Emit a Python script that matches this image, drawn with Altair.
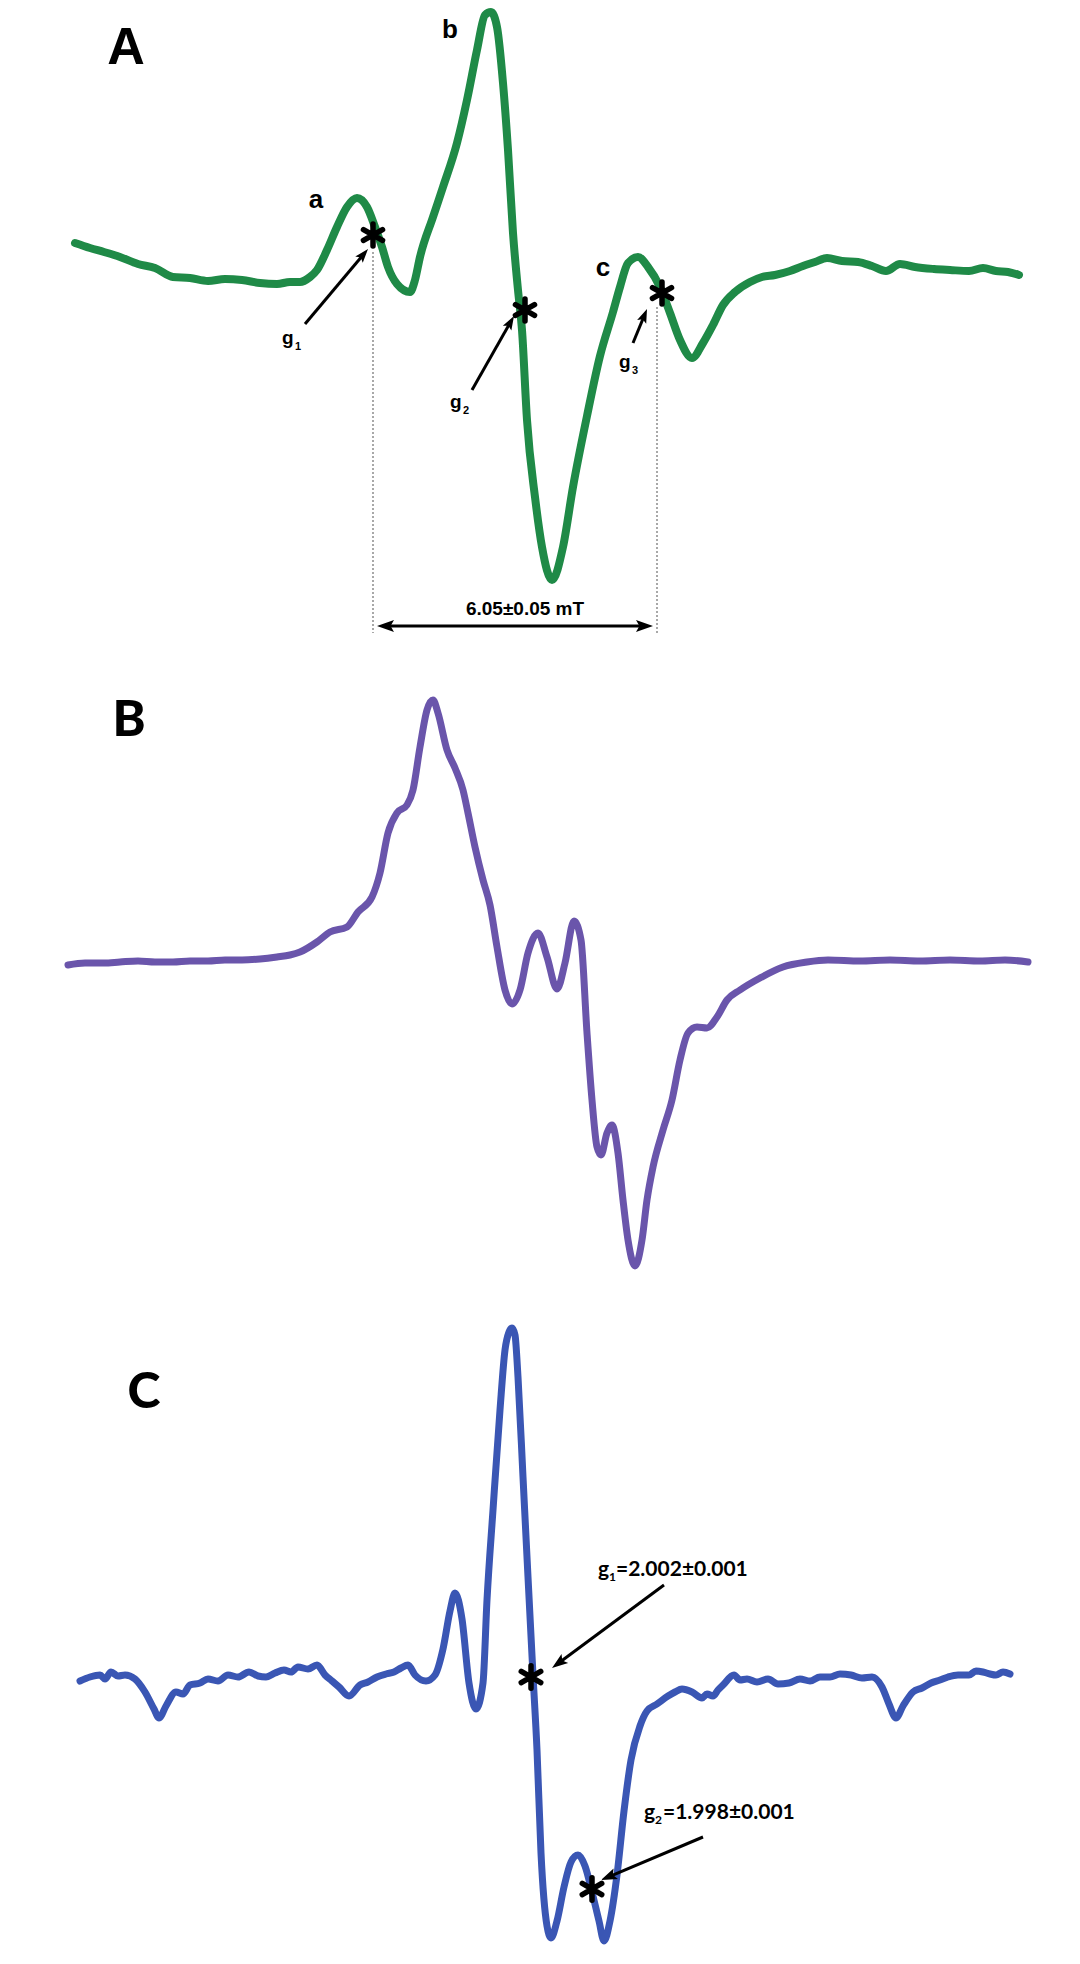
import math
import altair as alt
import pandas as pd

W = 1080
H_A, H_B, H_C = 650, 650, 664
DOM_A = [-370, 280]
DOM_B = [-338, 312]
DOM_C = [-287, 377]

GREEN = "#1f8a47"
PURPLE = "#6a55ab"
BLUE = "#3a56b4"

# ---------------- Panel A : EPR derivative spectrum (field, signal; arb. units) ----------------
field_A = [75, 90, 104, 120, 138, 155, 173, 190, 208, 225, 242, 260, 277, 290, 300, 310, 317, 327,
           337, 347, 357, 367, 375, 382, 388, 397, 410, 415, 420, 433, 443, 457, 467, 477, 485, 491,
           497, 503, 508, 513, 518, 522, 527, 535, 542, 552, 563, 573, 587, 600, 613, 620, 628, 638,
           648, 660, 670, 680, 692, 703, 713, 723, 735, 750, 762, 775, 790, 803, 815, 827, 842, 858,
           872, 886, 900, 915, 934, 950, 969, 983, 996, 1008, 1019]
signal_A = [37, 32, 28, 23, 16, 12, 3, 2, -1, 1, 0, -3, -4, -2, -2, 3, 10, 30,
            53, 73, 82, 73, 53, 33, 13, -4, -12, 0, 23, 63, 93, 137, 180, 230, 265, 268,
            253, 197, 130, 47, -10, -50, -140, -217, -267, -300, -267, -207, -136, -76, -32, -7, 17, 23,
            13, -7, -33, -60, -78, -63, -45, -25, -12, -2, 3, 5, 9, 14, 18, 22, 19, 18,
            14, 9, 16, 13, 11, 10, 9, 12, 9, 8, 5]

star_A_field = [373, 525, 662]
star_A_signal = [45, -30, -13]

arrow_A_tail = [(305, -44), (472, -110), (633, -63)]
arrow_A_tip = [(368, 31), (514, -36), (647, -29)]

span_A_field = [373, 657]          # g1 .. g3 positions (dotted guides)
span_A_top = [28, -27]
span_A_bottom = -353
span_A_level = -346
span_label = "6.05\u00b10.05 mT"

labels_A = [("A", 126, 216, 52), ("a", 316, 72, 26), ("b", 450, 242, 26), ("c", 603, 4, 26)]
glabels_A = [("g", 282, -64, 19), ("1", 295, -70, 11),
             ("g", 450, -128, 19), ("2", 463, -134, 11),
             ("g", 619, -88, 19), ("3", 632, -94, 11)]

# ---------------- Panel B ----------------
field_B = [68, 85, 104, 120, 138, 155, 173, 190, 208, 225, 242, 260, 277, 290, 300, 317, 330, 347,
           358, 372, 380, 388, 397, 407, 413, 420, 427, 433, 438, 447, 455, 463, 468, 475, 483, 490,
           497, 505, 512, 520, 528, 538, 547, 557, 565, 574, 581, 587, 592, 597, 601, 607, 612, 618,
           623, 628, 635, 642, 647, 653, 663, 672, 680, 688, 697, 707, 717, 727, 740, 760, 783, 807,
           828, 860, 890, 920, 950, 980, 1005, 1028]
signal_B = [-3, -1, -1, 0, 1, 0, 0, 1, 1, 2, 2, 3, 5, 7, 10, 20, 30, 35,
            50, 65, 89, 129, 149, 157, 172, 215, 252, 262, 249, 212, 194, 172, 149, 115, 82, 57,
            15, -28, -42, -28, 9, 29, 5, -27, -1, 41, 22, -71, -138, -185, -193, -171, -163, -191,
            -238, -278, -304, -278, -238, -205, -168, -138, -98, -71, -65, -66, -55, -38, -28, -16, -5, 0,
            2, 1, 2, 1, 2, 1, 2, 0]
labels_B = [("B", 129, 226, 50)]

# ---------------- Panel C ----------------
field_C = [80, 90, 100, 105, 111, 118, 125, 135, 145, 154, 159, 166, 176, 183, 190, 200, 208, 218,
           228, 238, 249, 258, 266, 275, 284, 291, 298, 308, 317, 325, 332, 339, 349, 360, 368, 377,
           386, 394, 401, 408, 415, 426, 435, 443, 450, 455, 462, 469, 476, 483, 487, 493, 500, 505,
           509, 512, 515, 518, 523, 528, 533, 537, 541, 547, 551, 557, 564, 571, 578, 585, 592, 599,
           604, 610, 617, 624, 631, 640, 647, 657, 668, 675, 682, 692, 702, 707, 713, 718, 723, 734,
           740, 747, 757, 768, 778, 789, 800, 810, 820, 830, 840, 851, 862, 872, 882, 889, 896, 903,
           913, 922, 931, 940, 948, 958, 969, 976, 983, 990, 996, 1003, 1010]
signal_C = [-4, 0, 2, -2, 5, 1, 2, -2, -15, -32, -41, -29, -15, -17, -8, -6, -2, -4,
            2, 0, 5, 1, 0, 4, 7, 5, 10, 8, 12, 2, -4, -10, -19, -8, -5, 0,
            3, 5, 9, 12, 2, -4, 2, 28, 66, 84, 58, -6, -32, -6, 77, 167, 267, 327,
            345, 349, 342, 300, 200, 100, 2, -73, -176, -249, -261, -244, -210, -185, -178, -189, -215, -244,
            -264, -244, -198, -134, -83, -49, -34, -27, -19, -15, -12, -15, -21, -17, -19, -13, -8, 2,
            -3, -2, -5, -2, -7, -6, -2, -4, 0, 0, 3, 2, -1, 0, -10, -27, -41, -29,
            -15, -11, -6, -3, 0, 2, 2, 6, 5, 3, 2, 5, 3]

star_C_field = [531, 592]
star_C_signal = [0, -212]
arrow_C_tail = [(664, 92), (703, -160)]
arrow_C_tip = [(552, 9), (601, -203)]
labels_C = [("C", 144, 269, 50)]
glabels_C = [("g", 598, 101, 21), ("1", 609, 96, 12), ("=2.002\u00b10.001", 616, 101, 21),
             ("g", 644, -142, 21), ("2", 655, -147, 12), ("=1.998\u00b10.001", 663, -142, 21)]

STAR = "M0,-1L0,1M-0.87,-0.5L0.87,0.5M-0.87,0.5L0.87,-0.5"
HEAD = "M0,0L0.7,2L0,1.6L-0.7,2Z"


def xenc(field="f"):
    return alt.X(f"{field}:Q", scale=alt.Scale(domain=[0, W], nice=False, zero=False), axis=None)


def yenc(dom, field="s"):
    return alt.Y(f"{field}:Q", scale=alt.Scale(domain=dom, nice=False, zero=False), axis=None)


def curve(f, s, color, dom, width):
    df = pd.DataFrame({"f": f, "s": s})
    return alt.Chart(df).mark_line(color=color, strokeWidth=width, interpolate="monotone",
                                   strokeJoin="round", strokeCap="round").encode(x=xenc(), y=yenc(dom))


def texts(items, dom, font, weight="bold", align="left"):
    df = pd.DataFrame(items, columns=["t", "f", "s", "fs"])
    return alt.Chart(df).mark_text(font=font, fontWeight=weight, align=align, baseline="alphabetic",
                                   color="black").encode(
        x=xenc(), y=yenc(dom), text="t:N", size=alt.Size("fs:Q", scale=None))


def stars(f, s, dom, size=480, sw=5.5):
    df = pd.DataFrame({"f": f, "s": s})
    return alt.Chart(df).mark_point(shape=STAR, filled=False, stroke="black", strokeWidth=sw,
                                    size=size, opacity=1, strokeCap="round").encode(x=xenc(), y=yenc(dom))


def arrows(tails, tips, dom, head_len, width):
    shafts, heads = [], []
    for (tf, ts), (hf, hs) in zip(tails, tips):
        dx, ds = hf - tf, hs - ts
        L = math.hypot(dx, ds)
        ux, us = dx / L, ds / L
        shafts.append({"f": tf, "s": ts, "f2": hf - ux * head_len * 0.6, "s2": hs - us * head_len * 0.6})
        heads.append({"f": hf, "s": hs, "ang": math.degrees(math.atan2(dx, ds)) % 360})
    shaft = alt.Chart(pd.DataFrame(shafts)).mark_rule(color="black", strokeWidth=width).encode(
        x=xenc(), y=yenc(dom), x2="f2:Q", y2="s2:Q")
    head = alt.Chart(pd.DataFrame(heads)).mark_point(shape=HEAD, filled=True, color="black", opacity=1,
                                                     size=head_len * head_len).encode(
        x=xenc(), y=yenc(dom), angle=alt.Angle("ang:Q", scale=None))
    return [shaft, head]


# ---- Panel A layers
guides = alt.Chart(pd.DataFrame({"f": span_A_field, "s": span_A_top,
                                 "s2": [span_A_bottom] * len(span_A_field)})).mark_rule(
    color="#8c8c8c", strokeWidth=1.5, strokeDash=[2, 2]).encode(x=xenc(), y=yenc(DOM_A), y2="s2:Q")

span_layers = arrows([(515, span_A_level), (515, span_A_level)],
                     [(span_A_field[0] + 4, span_A_level), (span_A_field[1] - 4, span_A_level)],
                     DOM_A, 17, 3.2)

panel_A = alt.layer(
    guides,
    curve(field_A, signal_A, GREEN, DOM_A, 8),
    stars(star_A_field, star_A_signal, DOM_A),
    *arrows(arrow_A_tail, arrow_A_tip, DOM_A, 14, 3),
    *span_layers,
    texts([(span_label, 525, -335, 19)], DOM_A, "Liberation Sans", align="center"),
    texts(labels_A, DOM_A, "Liberation Sans", align="center"),
    texts(glabels_A, DOM_A, "Liberation Sans"),
).properties(width=W, height=H_A)

panel_B = alt.layer(
    curve(field_B, signal_B, PURPLE, DOM_B, 7),
    texts(labels_B, DOM_B, "Lato", weight=900, align="center"),
).properties(width=W, height=H_B)

panel_C = alt.layer(
    curve(field_C, signal_C, BLUE, DOM_C, 7),
    stars(star_C_field, star_C_signal, DOM_C, size=500, sw=5.5),
    *arrows(arrow_C_tail, arrow_C_tip, DOM_C, 16, 3),
    texts(labels_C, DOM_C, "Lato", weight=900, align="center"),
    texts(glabels_C, DOM_C, "Lato"),
).properties(width=W, height=H_C)

chart = alt.vconcat(panel_A, panel_B, panel_C, spacing=0, bounds="flush").resolve_scale(
    x="independent", y="independent").properties(padding=0, background="white").configure_view(stroke=None)

chart.save("out.html", embed_options={"renderer": "svg", "actions": False})
